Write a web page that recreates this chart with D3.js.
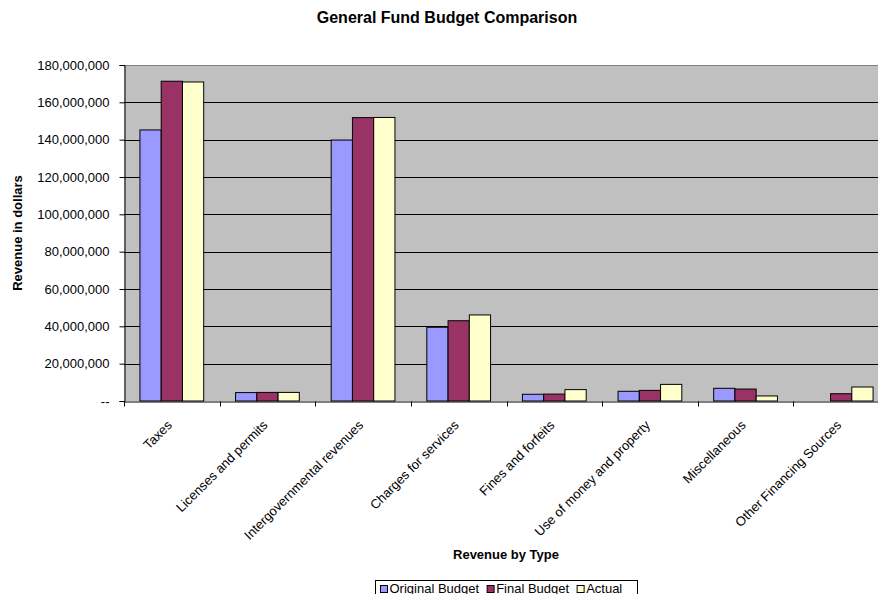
<!DOCTYPE html>
<html>
<head>
<meta charset="utf-8">
<script src="https://cdn.jsdelivr.net/npm/d3@7"></script>
<style>
  body { margin: 0; background: #fff; font-family: "Liberation Sans", Arial, sans-serif; overflow: hidden; }
</style>
</head>
<body>
<div id="chart"></div>
<script>
const categories = ["Taxes", "Licenses and permits", "Intergovernmental revenues", "Charges for services",
  "Fines and forfeits", "Use of money and property", "Miscellaneous", "Other Financing Sources"];
const seriesNames = ["Original Budget", "Final Budget", "Actual"];
const originalBudget = [145200000, 4500000, 139800000, 39500000, 3600000, 5200000, 6800000, 0];
const finalBudget = [171300000, 4600000, 151800000, 43000000, 3700000, 5700000, 6400000, 3900000];
const actual = [170900000, 4600000, 151900000, 46100000, 6100000, 8900000, 2700000, 7500000];
const yTicks = [0, 20000000, 40000000, 60000000, 80000000, 100000000, 120000000, 140000000, 160000000, 180000000];
const colors = ["#9999FF", "#993366", "#FFFFCC"];

const W = 878, H = 594;
const plot = { left: 124, top: 65, right: 889, bottom: 401 };

const svg = d3.select("#chart").append("svg")
  .attr("width", W).attr("height", H)
  .attr("font-family", "'Liberation Sans', Arial, sans-serif");

const x0 = d3.scaleBand().domain(categories).range([plot.left, plot.right]).paddingInner(0).paddingOuter(0);
const x1 = d3.scaleBand().domain(seriesNames).range([0, x0.bandwidth()]).paddingInner(0).paddingOuter(0.75);
const y = d3.scaleLinear().domain([0, 180000000]).range([plot.bottom, plot.top]);

// plot background
svg.append("rect")
  .attr("x", plot.left).attr("y", plot.top)
  .attr("width", plot.right - plot.left).attr("height", plot.bottom - plot.top)
  .attr("fill", "#C0C0C0");

// gridlines
svg.append("g").selectAll("line")
  .data(yTicks.slice(1))
  .join("line")
  .attr("x1", plot.left).attr("x2", plot.right)
  .attr("y1", d => Math.round(y(d)) + 0.5).attr("y2", d => Math.round(y(d)) + 0.5)
  .attr("stroke", d => d === 180000000 ? "#808080" : "#000")
  .attr("stroke-width", 1);

// bars
const data = categories.map((c, i) => ({
  cat: c,
  vals: [originalBudget[i], finalBudget[i], actual[i]]
}));

svg.append("g").selectAll("g")
  .data(data)
  .join("g")
  .attr("transform", d => `translate(${x0(d.cat)},0)`)
  .selectAll("rect")
  .data(d => d.vals.map((v, j) => ({ name: seriesNames[j], v, j })).filter(e => e.v > 0))
  .join("rect")
  .attr("x", d => x1(d.name))
  .attr("width", x1.bandwidth())
  .attr("y", d => y(d.v))
  .attr("height", d => y(0) - y(d.v))
  .attr("fill", d => colors[d.j])
  .attr("stroke", "#000")
  .attr("stroke-width", 1);

// y axis
const yAxis = d3.axisLeft(y)
  .tickValues(yTicks)
  .tickSize(5)
  .tickPadding(10)
  .tickFormat(d => d === 0 ? "--" : d3.format(",")(d));
const gy = svg.append("g")
  .attr("transform", `translate(${plot.left + 0.5},0)`)
  .call(yAxis);
gy.select(".domain").attr("stroke", "#000");
gy.selectAll("line").attr("stroke", "#000");
gy.selectAll("text").attr("font-size", 13).attr("fill", "#000")
  .attr("font-family", "'Liberation Sans', Arial, sans-serif");

// x axis
const xAxis = d3.axisBottom(x0).tickSize(0).tickFormat("");
const gx = svg.append("g")
  .attr("transform", `translate(0,${plot.bottom + 0.5})`)
  .call(xAxis);
gx.select(".domain").attr("stroke", "#000");
gx.selectAll(".tick").remove();
gx.append("g").selectAll("line")
  .data(categories)
  .join("line")
  .attr("x1", d => Math.round(x0(d)) + 0.5).attr("x2", d => Math.round(x0(d)) + 0.5)
  .attr("y1", 0).attr("y2", 5)
  .attr("stroke", "#000");

// category labels
svg.append("g").selectAll("text")
  .data(categories)
  .join("text")
  .attr("transform", d => `translate(${x0(d) + x0.bandwidth() / 2 + 1},${plot.bottom + 25}) rotate(-45)`)
  .attr("text-anchor", "end")
  .attr("font-size", 13)
  .attr("fill", "#000")
  .text(d => d);

// title
svg.append("text")
  .attr("x", 447).attr("y", 23)
  .attr("text-anchor", "middle")
  .attr("font-size", 16).attr("font-weight", "bold")
  .text("General Fund Budget Comparison");

// axis titles
svg.append("text")
  .attr("x", 506).attr("y", 559)
  .attr("text-anchor", "middle")
  .attr("font-size", 13).attr("font-weight", "bold")
  .text("Revenue by Type");

svg.append("text")
  .attr("transform", `translate(22,${(plot.top + plot.bottom) / 2}) rotate(-90)`)
  .attr("text-anchor", "middle")
  .attr("font-size", 13).attr("font-weight", "bold")
  .text("Revenue in dollars");

// legend
const legend = svg.append("g").attr("transform", "translate(375.5,580.5)");
legend.append("rect")
  .attr("x", 0).attr("y", 0).attr("width", 262).attr("height", 20)
  .attr("fill", "#fff").attr("stroke", "#000");
let lx = 5;
seriesNames.forEach((name, i) => {
  legend.append("rect")
    .attr("x", lx).attr("y", 5).attr("width", 7).attr("height", 7)
    .attr("fill", colors[i]).attr("stroke", "#000");
  const t = legend.append("text")
    .attr("x", lx + 9).attr("y", 12)
    .attr("font-size", 13)
    .text(name);
  lx += 9 + t.node().getComputedTextLength() + 8;
});
</script>
</body>
</html>
